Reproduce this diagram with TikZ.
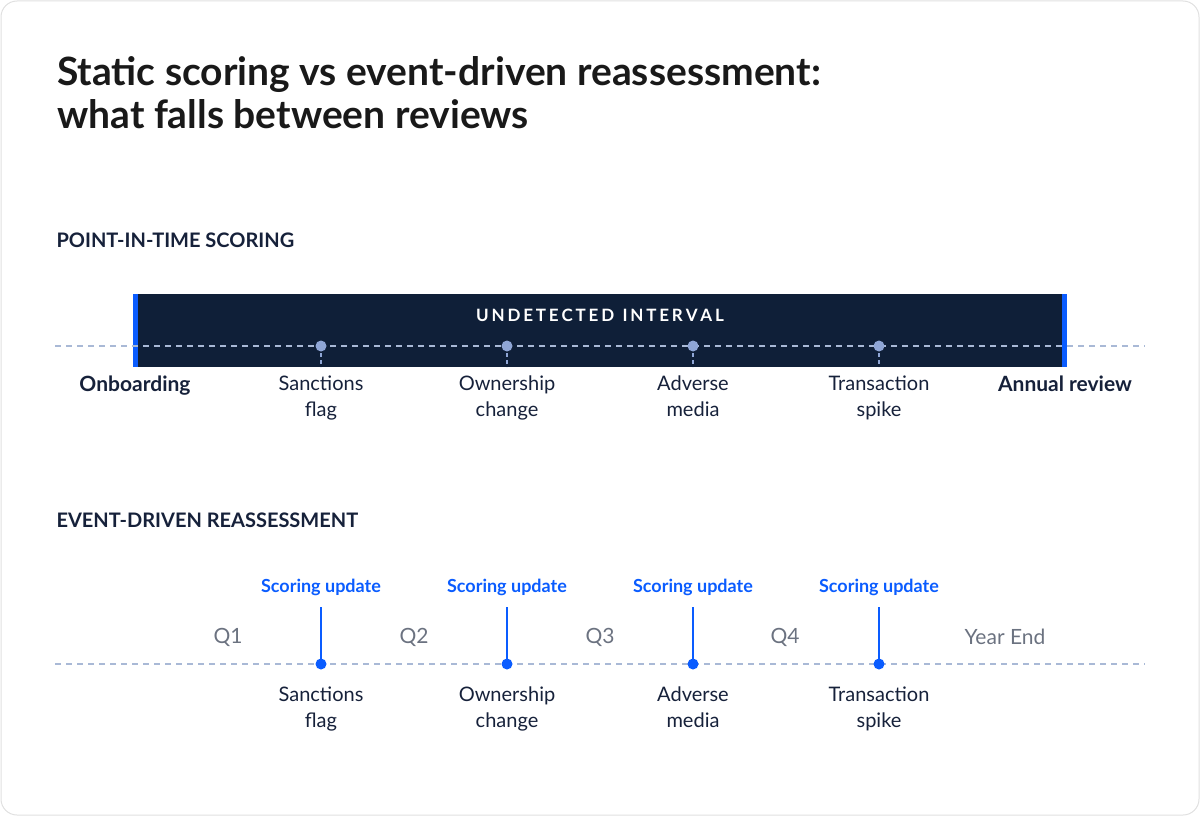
\documentclass[tikz,border=0pt]{standalone}
\usepackage{fontspec}
\setmainfont{Lato}
\usetikzlibrary{positioning}
\definecolor{navy}{HTML}{0F1F38}
\definecolor{ink}{HTML}{16213A}
\definecolor{accent}{HTML}{0A5CFF}
\definecolor{dash}{HTML}{A9B9D6}
\definecolor{dotc}{HTML}{8FA6D6}
\definecolor{qgray}{HTML}{6B7280}
\tikzset{
  axis/.style={draw=dash, line width=1.3pt, dash pattern=on 6pt off 5pt},
  heading/.style={font=\fontsize{20}{22}\selectfont\bfseries, text=ink, anchor=west},
  evlabel/.style={font=\fontsize{20}{26}\selectfont, text=ink, align=center, anchor=north},
  milestone/.style={font=\fontsize{21}{24}\selectfont\bfseries, text=ink, anchor=north},
  update/.style={font=\fontsize{18}{20}\selectfont\bfseries, text=accent},
  quarter/.style={font=\fontsize{21}{24}\selectfont, text=qgray},
}
\begin{document}
\begin{tikzpicture}[x=1pt, y=-1pt]
  \useasboundingbox (0,0) rectangle (1200,816);
  \draw[draw=black!12, line width=1pt, rounded corners=16pt] (1,1) rectangle (1199,815);
  % title
  \node[anchor=north west, align=left, text=black!90, font=\fontsize{39}{43}\selectfont\bfseries, inner sep=0pt]
    (title) at (57,56) {Static scoring vs event-driven reassessment:\\what falls between reviews};
  % point-in-time
  \node[heading] (pit) at (53,240) {POINT-IN-TIME SCORING};
  \fill[navy] (133,294) rectangle (1066,367);
  \fill[accent] (133,294) rectangle (138,367);
  \fill[accent] (1062,294) rectangle (1067,367);
  \node[text=white, font=\fontsize{17}{20}\selectfont\bfseries] (gap) at (600,315) {U\,N\,D\,E\,T\,E\,C\,T\,E\,D\ \ I\,N\,T\,E\,R\,V\,A\,L};
  \coordinate (a1) at (55,346);
  \coordinate (a2) at (1145,346);
  \draw[axis] (a1) -- (a2);
  \node[milestone] (onb) at (135,372) {Onboarding};
  \node[milestone] (ann) at (1065,372) {Annual review};
  \foreach \x/\n/\t in {321/sf/Sanctions\\flag, 507/oc/Ownership\\change, 693/am/Adverse\\media, 879/ts/Transaction\\spike}{
    \fill[dotc] (\x,346) circle (5.5pt) coordinate (p\n);
    \coordinate (q\n) at (\x,367);
    \draw[dotc, line width=1.3pt, dash pattern=on 4pt off 3pt] (p\n) -- (q\n);
    \node[evlabel] (l\n) at (\x,372) {\t};
  }
  % event-driven
  \node[heading] (edr) at (53,520) {EVENT-DRIVEN REASSESSMENT};
  \coordinate (b1) at (55,664);
  \coordinate (b2) at (1145,664);
  \draw[axis] (b1) -- (b2);
  \foreach \x/\n/\t in {321/sf/Sanctions\\flag, 507/oc/Ownership\\change, 693/am/Adverse\\media, 879/ts/Transaction\\spike}{
    \node[update] (u\n) at (\x,587) {Scoring update};
    \coordinate (t\n) at (\x,607);
    \fill[accent] (\x,664) circle (5.5pt) coordinate (e\n);
    \draw[accent, line width=2pt] (t\n) -- (e\n);
    \node[evlabel] (m\n) at (\x,683) {\t};
  }
  \foreach \x/\q in {228/Q1, 414/Q2, 600/Q3, 785/Q4, 1005/Year End}
    \node[quarter] at (\x,637) {\q};
\end{tikzpicture}
\end{document}
